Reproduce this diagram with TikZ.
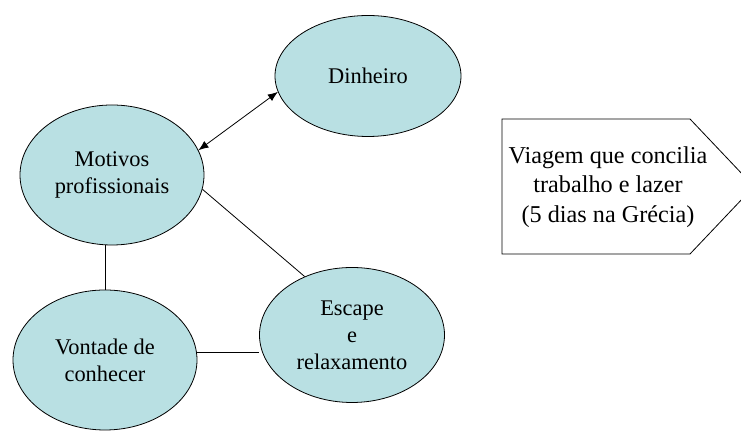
\documentclass[tikz,border=0pt]{standalone}
\usepackage{fontspec}
\setmainfont{Liberation Serif}
\usetikzlibrary{arrows.meta,shapes.geometric}
\definecolor{bubblefill}{RGB}{185,224,227}
\tikzset{
  bubble/.style={ellipse, draw, fill=bubblefill, thin, align=center, inner sep=0pt,
    font=\fontsize{11.2}{13.6}\selectfont},
  link/.style={draw, thin},
}

\begin{document}
\begin{tikzpicture}[x=0.5pt, y=0.5pt]
  \useasboundingbox (0,0) rectangle (741,432);
  \clip (0,0) rectangle (741,432);
  % Ellipses
  \node[bubble, minimum width=93pt, minimum height=60.5pt] (din) at (368,356) {Dinheiro};
  \node[bubble, minimum width=92pt, minimum height=70pt] (mot) at (112,257) {Motivos\\profissionais};
  \node[bubble, minimum width=92pt, minimum height=70pt] (vont) at (105,72) {Vontade de\\conhecer};
  \node[bubble, minimum width=92.5pt, minimum height=67.5pt] (esc) at (352,97) {Escape\\e\\relaxamento};
  % Connectors
  \draw[{Latex[length=5pt,width=4pt]}-{Latex[length=5pt,width=4pt]}, thin] (mot.16) -- (din.190);
  \draw[link] (mot.-9) -- (esc.129);
  \draw[link] (vont.north) -- (vont.north |- mot.south);
  \draw[link] (vont.5) -- (vont.5 -| esc.west);
  % Pentagon arrow (tip runs off the right edge)
  \draw[thin] (502,313) -- (690,313) -- (754,245.5) -- (690,178) -- (502,178) -- cycle;
  \node[align=center, font=\fontsize{12.1}{14.8}\selectfont] (trip) at (608,245)
    {Viagem que concilia\\trabalho e lazer\\(5 dias na Grécia)};
\end{tikzpicture}
\end{document}
